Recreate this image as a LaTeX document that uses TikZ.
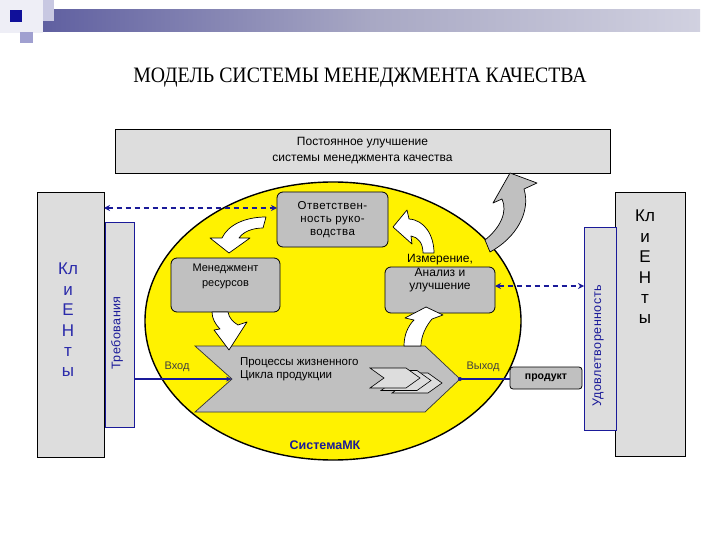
\documentclass[tikz,border=0pt]{standalone}
\usepackage{fontspec}
\setmainfont{Liberation Sans}
\newfontfamily\serifT[FakeStretch=0.9]{Liberation Serif}
\newfontfamily\sansW[LetterSpace=4]{Liberation Sans}
\usetikzlibrary{arrows.meta,shapes.geometric}
\definecolor{navy}{HTML}{1A1A99}
\definecolor{lgray}{HTML}{DDDDDD}
\definecolor{mgray}{HTML}{C0C0C0}
\definecolor{txtblue}{HTML}{2A2AAA}
\definecolor{decopale}{HTML}{EEEEF6}
\definecolor{decolav}{HTML}{C8C8E2}
\definecolor{decomid}{HTML}{A0A0D0}
\definecolor{decodark}{HTML}{10109A}
\definecolor{barA}{HTML}{14147E}
\definecolor{barB}{HTML}{3A3A8E}
\definecolor{barC}{HTML}{A8A8C4}
\definecolor{barD}{HTML}{FAFAFC}
\pgfdeclarehorizontalshading{barshade}{100bp}{color(0bp)=(barA); color(12bp)=(barB); color(50bp)=(barC); color(100bp)=(barD)}
\tikzset{
  lightbox/.style={draw=black, fill=lgray, line width=0.8pt, inner sep=0pt, outer sep=0pt},
  bluebox/.style={draw=navy, fill=lgray, line width=0.8pt, inner sep=0pt, outer sep=0pt},
  rbox/.style={draw=black, fill=mgray, rounded corners=6pt, line width=0.8pt, inner sep=0pt, outer sep=0pt},
  txt/.style={inner sep=0pt, outer sep=0pt, align=center},
  whitearr/.style={draw=black, fill=white, line width=0.7pt, line join=round},
  grayarr/.style={draw=black, fill=mgray, line width=0.7pt, line join=round},
  dasharr/.style={draw=navy, line width=1.6pt, dash pattern=on 5pt off 4pt, {Stealth[length=6pt,width=6pt]}-{Stealth[length=6pt,width=6pt]}},
  flowline/.style={draw=navy, line width=1.2pt},
  smallchev/.style={draw=black, fill=lgray, line width=0.6pt}
}
\begin{document}
\begin{tikzpicture}[x=1pt, y=-1pt]
\useasboundingbox (0,0) rectangle (720,540);
\fill[white] (0,0) rectangle (720,540);
% top-left decoration
\fill[decopale] (0,0) rectangle (43,33);
\shade[shading=barshade] (43,10) rectangle (700,32);
\fill[decolav] (43,0) rectangle (54,21);
\fill[decomid] (20,32) rectangle (33,43);
\fill[decodark] (10,10) rectangle (22,22);
% title
\node[txt, font=\serifT\fontsize{22}{24}\selectfont] (title) at (360,78) {МОДЕЛЬ СИСТЕМЫ МЕНЕДЖМЕНТА КАЧЕСТВА};
% improvement box
\node[lightbox, minimum width=495pt, minimum height=44pt] (improve) at (362.5,151) {};
\node[txt, font=\fontsize{12}{16}\selectfont] (improveT) at (362.5,151) {Постоянное улучшение\\системы менеджмента качества};
% yellow ellipse
\node[ellipse, draw=black, fill=yellow, line width=1.4pt, minimum width=376pt, minimum height=278pt, inner sep=0pt, outer sep=0pt] (sys) at (333,321) {};
% clients left
\node[lightbox, minimum width=67pt, minimum height=265pt] (clientsL) at (70.5,324.5) {};
\node[txt, text=txtblue, font=\fontsize{17}{20.4}\selectfont] (clientsLT) at (68,320) {Кл\\и\\Е\\Н\\т\\ы};
% requirements
\node[bluebox, minimum width=29pt, minimum height=205pt] (req) at (119.5,324.5) {};
\node[txt, rotate=90, text=navy, font=\sansW\fontsize{12.5}{14}\selectfont] (reqT) at (117,333) {Требования};
% clients right
\node[lightbox, minimum width=70pt, minimum height=264pt] (clientsR) at (650,324) {};
\node[txt, text=black, font=\fontsize{17}{20.4}\selectfont] (clientsRT) at (645,267) {Кл\\и\\Е\\Н\\т\\ы};
% satisfaction
\node[bluebox, minimum width=32pt, minimum height=203pt] (satisf) at (600,328.5) {};
\node[txt, rotate=90, text=navy, font=\sansW\fontsize{12.5}{14}\selectfont] (satisfT) at (598,346) {Удовлетворенность};
% inner boxes
\node[rbox, minimum width=111pt, minimum height=55pt] (resp) at (332.5,219.5) {};
\node[txt, font=\sansW\fontsize{11.5}{13}\selectfont] (respT) at (332.5,220) {Ответствен-\\ность руко-\\водства};
\node[rbox, minimum width=109pt, minimum height=54pt] (mgmt) at (225.5,285) {};
\node[txt, font=\fontsize{11}{15}\selectfont] (mgmtT) at (225.5,276) {Менеджмент\\ресурсов};
\node[rbox, minimum width=110pt, minimum height=46pt] (meas) at (440,290) {};
\node[txt, font=\fontsize{12}{13.5}\selectfont] (measT) at (440,273.5) {Измерение,\\Анализ и\\улучшение};
% main process chevron
\coordinate (notch) at (232,379);
\coordinate (tip) at (460,379);
\draw[draw=black!80, fill=mgray, line width=0.7pt] (195,346) -- (425,346) -- (tip) -- (425,412) -- (195,412) -- (notch) -- cycle;
\node[txt, anchor=west, align=left, font=\fontsize{11.5}{12.5}\selectfont] (procT) at (240,369) {Процессы жизненного\\Цикла продукции};
% small chevrons
\foreach \dx/\dy in {22/5, 11/2.5, 0/0} {
  \draw[smallchev] (370+\dx,368+\dy) -- (406+\dx,368+\dy) -- (420+\dx,378+\dy) -- (406+\dx,388+\dy) -- (370+\dx,388+\dy) -- (384+\dx,378+\dy) -- cycle;
}
% product
\node[rbox, rounded corners=3pt, minimum width=72pt, minimum height=22pt] (prod) at (546,378) {};
\node[txt, font=\bfseries\fontsize{10.5}{12}\selectfont] (prodT) at (546,378) {продукт};
% input/output
\node[txt, text=black!75, font=\fontsize{11}{12}\selectfont] (inT) at (177,367) {Вход};
\node[txt, text=black!75, font=\fontsize{11}{12}\selectfont] (outT) at (483,367) {Выход};
\draw[flowline, -{Stealth[length=6pt,width=5pt]}] (req.east |- notch) -- (notch);
\draw[flowline] (tip) -- (prod.west |- tip);
\fill[navy] (tip) circle (2pt);
% system label
\node[txt, text=navy, font=\bfseries\fontsize{12.5}{14}\selectfont] (sysT) at (325,445) {СистемаМК};
% dashed arrows
\path ([yshift=11.5pt]resp.west) coordinate (d1r);
\draw[dasharr] (clientsL.east |- d1r) -- (d1r);
\path ([yshift=4pt]meas.east) coordinate (d2l);
\draw[dasharr] (d2l) -- (satisf.west |- d2l);
% curved white arrows
\draw[whitearr] (266,217) .. controls (245,217) and (228,225) .. (222,238) -- (210,238) -- (229,253) -- (250,238) -- (239,238) .. controls (243,232) and (252,228) .. (263,228) -- cycle;
\draw[whitearr] (212,312) -- (228,312) .. controls (229,318) and (233,322) .. (238,325) -- (247,322) -- (229,350) -- (214,330) -- (220,329) .. controls (215,324) and (212,318) .. (212,312) -- cycle;
\draw[whitearr] (404,346) .. controls (404,335) and (408,326) .. (414,320) -- (405,318) -- (426,307) -- (443,315) -- (432,319) .. controls (426,326) and (421,336) .. (421,346) -- cycle;
\draw[whitearr] (423,253) .. controls (423,243) and (418,237) .. (411,236) -- (412,244) -- (393,227) -- (407,210) -- (409,219) .. controls (425,220) and (434,236) .. (434,253) -- cycle;
% big gray arrow
\draw[grayarr] (485,240) .. controls (500,228) and (508,212) .. (502,199) -- (493,203) -- (510,173) -- (537,183) -- (524,189) .. controls (531,212) and (516,238) .. (490,252) -- cycle;
\end{tikzpicture}
\end{document}
